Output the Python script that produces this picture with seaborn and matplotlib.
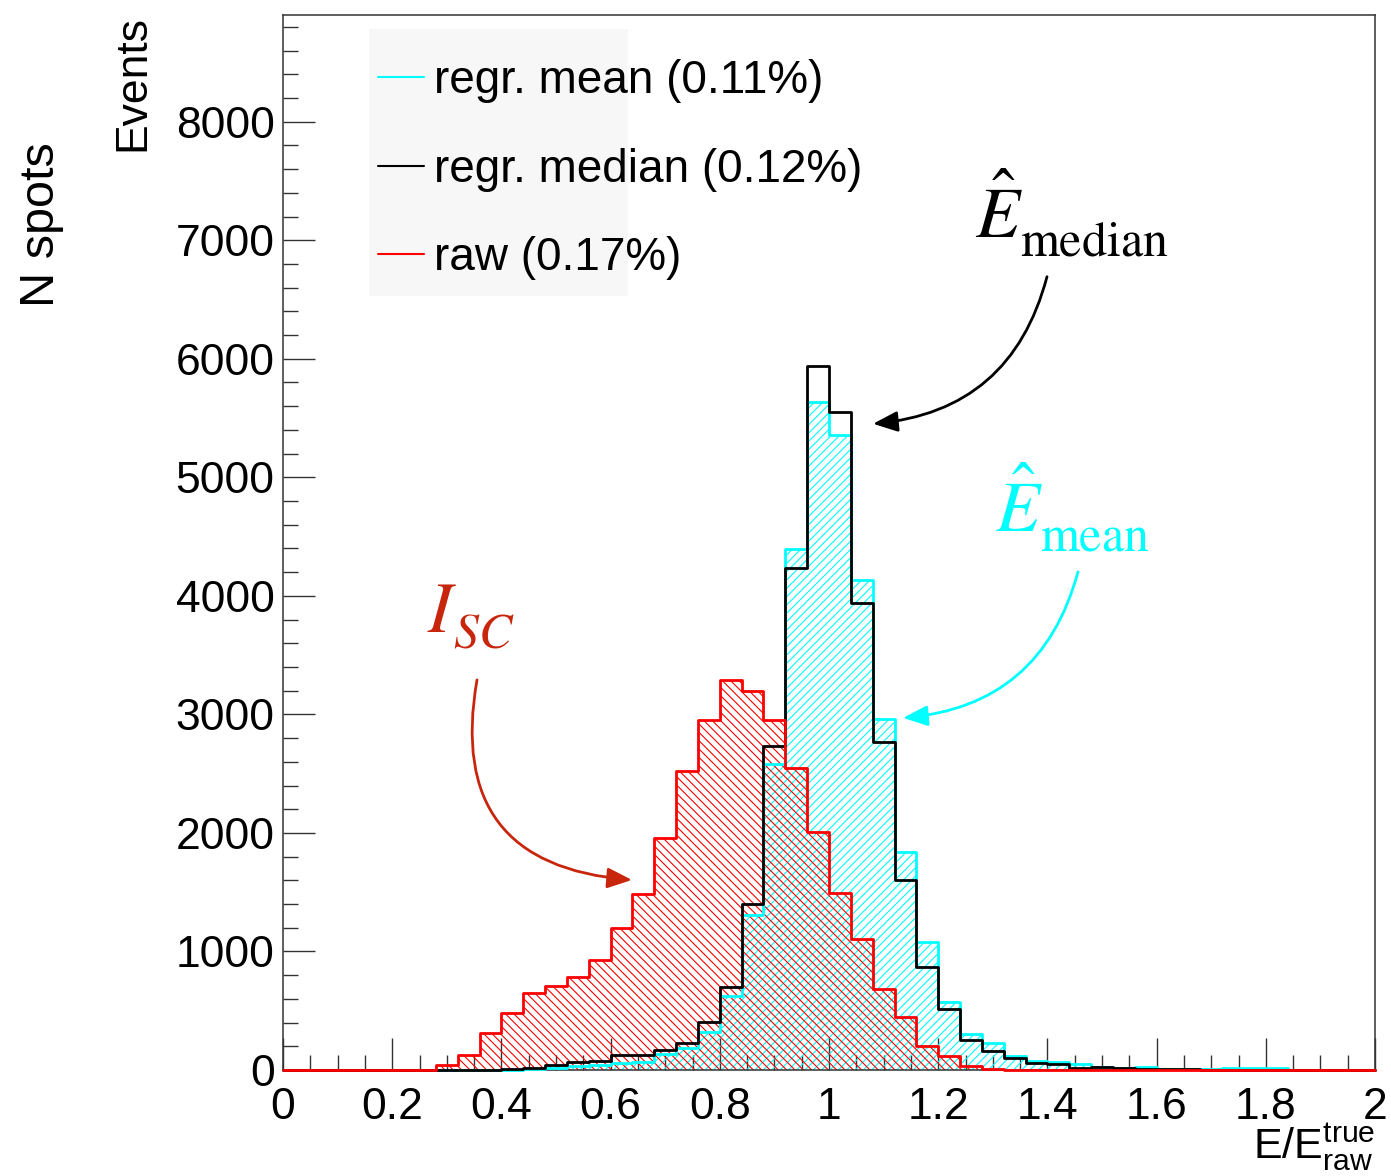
import numpy as np
import pandas as pd
import matplotlib
matplotlib.use("Agg")
import matplotlib.pyplot as plt
from matplotlib.lines import Line2D
from matplotlib.patches import Rectangle
import seaborn as sns

# ---------------- data (50 bins of width 0.04 from 0 to 2) ----------------
n_bins = 50
x_range = (0.0, 2.0)
bin_edges = np.linspace(x_range[0], x_range[1], n_bins + 1)
bin_centers = (bin_edges[:-1] + bin_edges[1:]) / 2

raw_counts = [0, 0, 0, 0, 0, 0, 0, 42, 127, 309,
              484, 653, 709, 788, 928, 1196, 1485, 1961, 2526, 2954,
              3286, 3198, 2954, 2546, 2011, 1491, 1103, 684, 444, 205,
              118, 37, 11, 0, 0, 0, 0, 0, 0, 0,
              0, 0, 0, 0, 0, 0, 0, 0, 0, 0]

median_counts = [0, 0, 0, 0, 0, 0, 0, 0, 2, 3,
                 5, 14, 42, 65, 79, 127, 127, 169, 225, 402,
                 703, 1401, 2737, 4233, 5935, 5550, 3938, 2765, 1603, 867,
                 512, 253, 163, 100, 55, 52, 18, 25, 18, 8,
                 6, 5, 4, 3, 3, 3, 2, 2, 1, 1]

mean_counts = [0, 0, 0, 0, 0, 0, 0, 0, 1, 2,
               3, 6, 18, 30, 42, 62, 68, 135, 183, 323,
               624, 1308, 2580, 4394, 5634, 5353, 4135, 2962, 1842, 1077,
               577, 304, 225, 118, 72, 70, 51, 28, 20, 28,
               8, 8, 8, 14, 14, 14, 3, 3, 2, 2]

legend_labels = ["regr. mean (0.11%)", "regr. median (0.12%)", "raw (0.17%)"]
series_colors = {"mean": "#00ffff", "median": "#000000", "raw": "#ff0000"}

x_ticks = [0, 0.2, 0.4, 0.6, 0.8, 1.0, 1.2, 1.4, 1.6, 1.8, 2.0]
x_ticklabels = ["0", "0.2", "0.4", "0.6", "0.8", "1", "1.2", "1.4", "1.6", "1.8", "2"]
y_ticks = [0, 1000, 2000, 3000, 4000, 5000, 6000, 7000, 8000]

# ---------------- style ----------------
sns.set_theme(style="white")
plt.rcParams["font.family"] = ["Liberation Sans", "DejaVu Sans"]
plt.rcParams["hatch.linewidth"] = 0.8
for key in ["text.color", "axes.labelcolor", "xtick.color", "ytick.color"]:
    plt.rcParams[key] = "black"

df = pd.DataFrame({
    "x": np.concatenate([bin_centers] * 3),
    "w": np.concatenate([mean_counts, median_counts, raw_counts]).astype(float),
    "series": ["mean"] * n_bins + ["median"] * n_bins + ["raw"] * n_bins,
})

fig = plt.figure(figsize=(13.91, 11.76), dpi=100)
ax = fig.add_axes([283 / 1391, 1 - 1070 / 1176, (1375 - 283) / 1391, (1070 - 15) / 1176])

# legend background box (ROOT style)
ax.add_patch(Rectangle((0.0788, 0.734), 0.237, 0.253, transform=ax.transAxes,
                       facecolor="#f7f7f7", edgecolor="none", zorder=0.5))

hist_kw = dict(x="x", weights="w", bins=n_bins, binrange=x_range,
               element="step", stat="count")

# hatched fills
for name, hatch in [("mean", "////"), ("raw", "\\\\\\\\")]:
    sub = df[df.series == name].reset_index(drop=True)
    n_before = len(ax.collections)
    sns.histplot(data=sub, fill=True, color=series_colors[name], ax=ax, **hist_kw)
    for coll in ax.collections[n_before:]:
        coll.set_facecolor("none")
        coll.set_edgecolor(series_colors[name])
        coll.set_hatch(hatch)
        coll.set_linewidth(0)
        coll.set_zorder(1)

# outlines
for i, name in enumerate(["mean", "median", "raw"]):
    sub = df[df.series == name].reset_index(drop=True)
    n_before = len(ax.lines)
    sns.histplot(data=sub, fill=False, color=series_colors[name],
                 linewidth=2.0, ax=ax, **hist_kw)
    for ln in ax.lines[n_before:]:
        ln.set_zorder(3 + i * 0.1)
        ln.set_clip_on(False)

ax.set_xlim(0, 2)
ax.set_ylim(0, 8900)

ax.set_xticks(x_ticks)
ax.set_xticklabels(x_ticklabels)
ax.set_yticks(y_ticks)
ax.set_xticks(np.arange(0, 2.0001, 0.05), minor=True)
ax.set_yticks(np.arange(0, 8901, 200), minor=True)
ax.tick_params(axis="both", which="both", direction="in", top=False, right=False,
               bottom=True, left=True, labelsize=32, color="#333333")
ax.tick_params(axis="both", which="major", length=23, width=1.0)
ax.tick_params(axis="both", which="minor", length=11, width=1.0)
ax.tick_params(axis="x", which="major", pad=12)
ax.tick_params(axis="y", which="major", pad=6)
for sp in ax.spines.values():
    sp.set_color("#333333")
    sp.set_linewidth(1.1)
    sp.set_zorder(2.5)

ax.set_xlabel(r"$\mathregular{E/E}_{\mathregular{raw}}^{\mathregular{true}}$",
              fontsize=31, loc="right", labelpad=-4)
ax.set_ylabel("Events", fontsize=32, loc="top", labelpad=16)
fig.text(42 / 1391, 1 - 225 / 1176, "N spots", rotation=90, ha="center",
         va="center", fontsize=35)

# legend
handles = [Line2D([], [], color=series_colors[k], lw=1.5) for k in ["mean", "median", "raw"]]
ax.legend(handles, legend_labels, loc="upper left", bbox_to_anchor=(0.087, 0.958),
          frameon=False, fontsize=33, handlelength=1.0, handletextpad=0.22,
          labelspacing=0.97, borderpad=0, borderaxespad=0)

# annotations
def px2data(px, py):
    return (px - 283) / 546.0, (1070 - py) / 0.1185

def label(main, sub, color, main_xy, sub_xy):
    mx, my = px2data(*main_xy)
    ax.text(mx, my, main, fontsize=52, color=color, math_fontfamily="stix",
            va="baseline", ha="left")
    sx, sy = px2data(*sub_xy)
    ax.text(sx, sy, sub, fontsize=36, color=color, math_fontfamily="stix",
            va="baseline", ha="left")

label(r"$\hat{E}$", r"$\mathrm{median}$", "black", (975, 238), (1020, 256))
label(r"$\hat{E}$", r"$\mathrm{mean}$", "#00ffff", (995, 532), (1040, 551))
label(r"$I$", r"$SC$", "#c8260c", (427, 632), (453, 648))

arrow_kw = dict(arrowstyle="-|>,head_length=0.6,head_width=0.25", mutation_scale=25,
                lw=2, shrinkA=0, shrinkB=0)
ax.annotate("", xy=px2data(873, 424), xytext=px2data(1047, 277),
            arrowprops=dict(color="black", connectionstyle="arc3,rad=-0.35", **arrow_kw))
ax.annotate("", xy=px2data(903, 718), xytext=px2data(1078, 572),
            arrowprops=dict(color="#00ffff", connectionstyle="arc3,rad=-0.35", **arrow_kw))
ax.annotate("", xy=px2data(632, 880), xytext=px2data(477, 680),
            arrowprops=dict(color="#c8260c", connectionstyle="arc3,rad=0.55", **arrow_kw))

fig.savefig("out.png", dpi=100)
